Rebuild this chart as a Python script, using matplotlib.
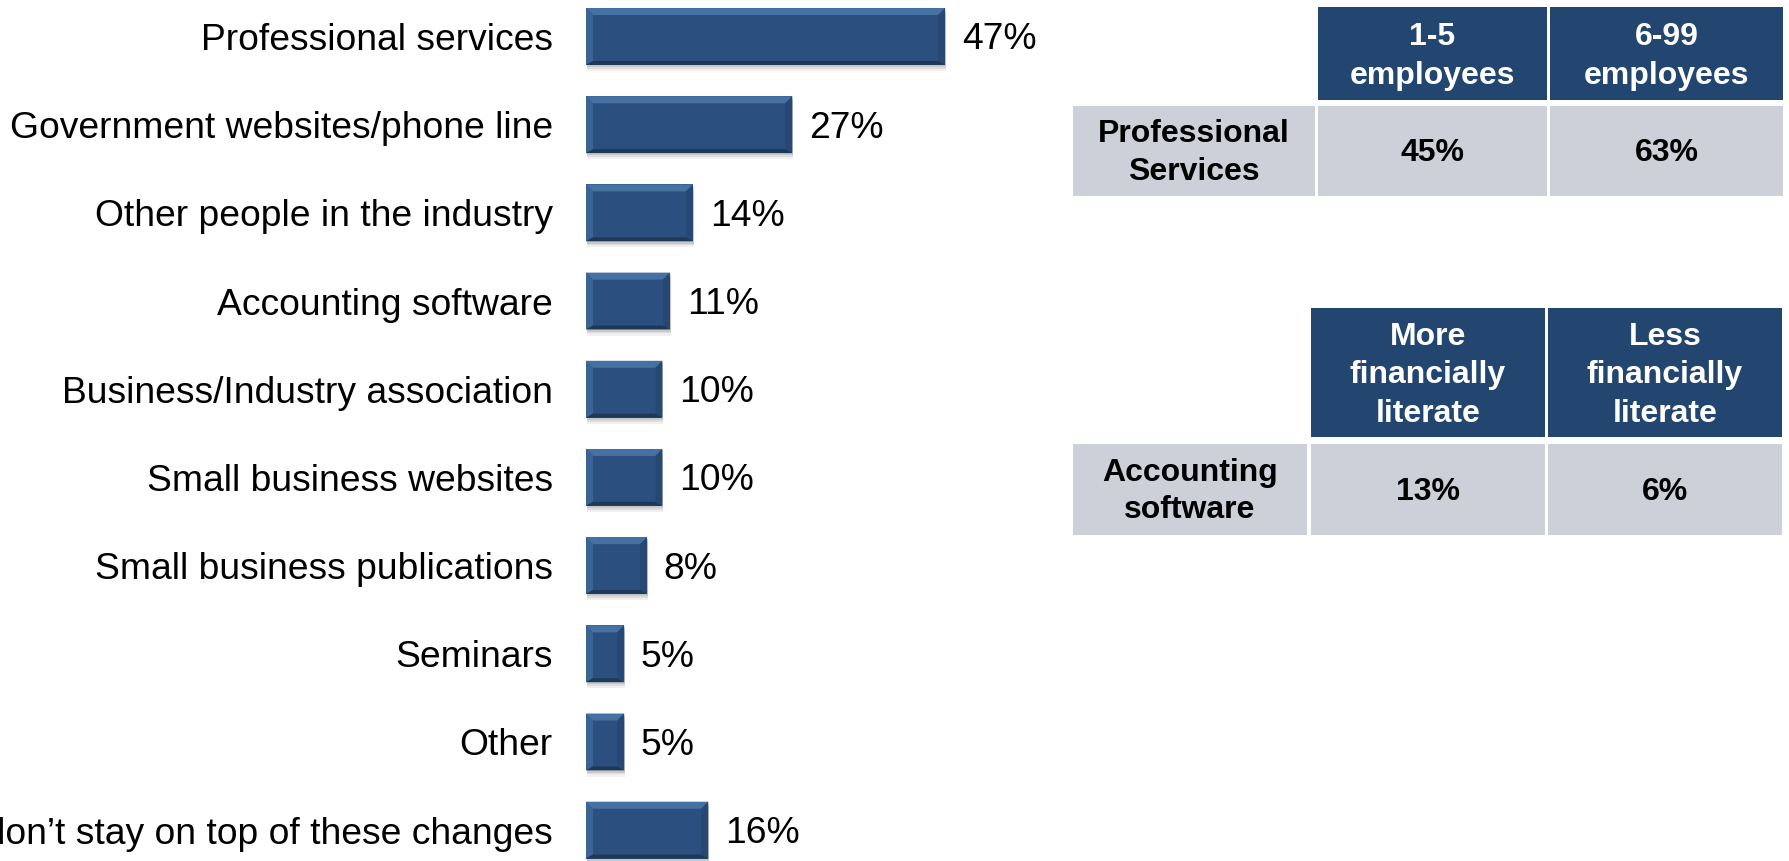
import matplotlib.pyplot as plt
from matplotlib.patches import Polygon, Rectangle

plt.rcParams['font.family'] = ['Liberation Sans', 'DejaVu Sans']

# where small businesses get their information (% of respondents)
sources = ['Professional services', 'Government websites/phone line',
           'Other people in the industry', 'Accounting software',
           'Business/Industry association', 'Small business websites',
           'Small business publications', 'Seminars', 'Other',
           'I don\u2019t stay on top of these changes']
shares = [47, 27, 14, 11, 10, 10, 8, 5, 5, 16]

# breakdown tables
size_cols = ['1-5\nemployees', '6-99\nemployees']
size_row = 'Professional\nServices'
size_vals = [45, 63]

lit_cols = ['More\nfinancially\nliterate', 'Less\nfinancially\nliterate']
lit_row = 'Accounting\nsoftware'
lit_vals = [13, 6]

FACE = '#2b5080'
TOP = '#4672a3'
SIDE = '#3a6494'
RSIDE = '#264872'
BOTTOM = '#1d3859'
HEAD = '#22466f'
GREY = '#cdd0d8'

W, H = 1790, 861
fig = plt.figure(figsize=(W / 100, H / 100), dpi=100)

# bar chart, 7.64 px per percentage point starting at x=586
px_per = 7.64
ax = fig.add_axes([586 / W, 0, 60 * px_per / W, 1])
ax.set_xlim(0, 60)
ax.set_ylim(9.35, -0.414)

bars = ax.barh(range(len(shares)), shares, height=0.645, color=FACE,
               edgecolor='none', zorder=3)

bx = 7 / px_per        # bevel width in data units
by_t = 7 / 88.2        # top bevel
by_b = 4 / 88.2        # bottom bevel
for b in bars:
    x0, y0 = b.get_x(), b.get_y()
    x1, y1 = x0 + b.get_width(), y0 + b.get_height()
    # soft drop shadow
    for k, a in [(0.07, 0.12), (0.045, 0.18), (0.025, 0.25)]:
        ax.add_patch(Rectangle((x0 + 0.1, y0 + k), x1 - x0, y1 - y0,
                               color='#8a8a8a', alpha=a, lw=0, zorder=2))
    ax.add_patch(Polygon([(x0, y0), (x1, y0), (x1 - bx, y0 + by_t), (x0 + bx, y0 + by_t)],
                         closed=True, color=TOP, lw=0, zorder=4))
    ax.add_patch(Polygon([(x0, y0), (x0 + bx, y0 + by_t), (x0 + bx, y1 - by_b), (x0, y1)],
                         closed=True, color=SIDE, lw=0, zorder=4))
    ax.add_patch(Polygon([(x1, y0), (x1 - bx, y0 + by_t), (x1 - bx, y1 - by_b), (x1, y1)],
                         closed=True, color=RSIDE, lw=0, zorder=4))
    ax.add_patch(Polygon([(x0, y1), (x1, y1), (x1 - bx, y1 - by_b), (x0 + bx, y1 - by_b)],
                         closed=True, color=BOTTOM, lw=0, zorder=4))

for i, v in enumerate(shares):
    ax.annotate(f'{v}%', xy=(v, i), xytext=(12, -2.5), textcoords='offset points',
                va='center', ha='left', fontsize=26.8)

ax.set_yticks(range(len(sources)), sources, fontsize=26.8)
ax.tick_params(axis='y', length=0, pad=24)
ax.set_xticks([])
for s in ax.spines.values():
    s.set_visible(False)

# tables drawn in pixel coordinates
tax = fig.add_axes([0, 0, 1, 1])
tax.set_xlim(0, W)
tax.set_ylim(H, 0)
tax.axis('off')


def draw_table(cols, row, vals, label_x, col_x, head_y, row_y):
    for (cx0, cx1), name in zip(col_x, cols):
        tax.add_patch(Rectangle((cx0, head_y[0]), cx1 - cx0, head_y[1] - head_y[0],
                                color=HEAD, lw=0))
        tax.text((cx0 + cx1) / 2, sum(head_y) / 2 + 3, name, ha='center', va='center',
                 color='white', fontsize=23, fontweight='bold', linespacing=1.38)
    tax.add_patch(Rectangle((label_x[0], row_y[0]), label_x[1] - label_x[0],
                            row_y[1] - row_y[0], color=GREY, lw=0))
    tax.text(sum(label_x) / 2, sum(row_y) / 2 + 2, row, ha='center', va='center',
             fontsize=23, fontweight='bold', linespacing=1.32)
    for (cx0, cx1), v in zip(col_x, vals):
        tax.add_patch(Rectangle((cx0, row_y[0]), cx1 - cx0, row_y[1] - row_y[0],
                                color=GREY, lw=0))
        tax.text((cx0 + cx1) / 2, sum(row_y) / 2 + 2, f'{v}%', ha='center', va='center',
                 fontsize=23, fontweight='bold')


draw_table(size_cols, size_row, size_vals, (1073, 1315),
           [(1318, 1547), (1550, 1783)], (7, 100), (106, 196))
draw_table(lit_cols, lit_row, lit_vals, (1073, 1307),
           [(1311, 1545), (1548, 1782)], (308, 437), (444, 535))

fig.savefig('out.png', dpi=100)
